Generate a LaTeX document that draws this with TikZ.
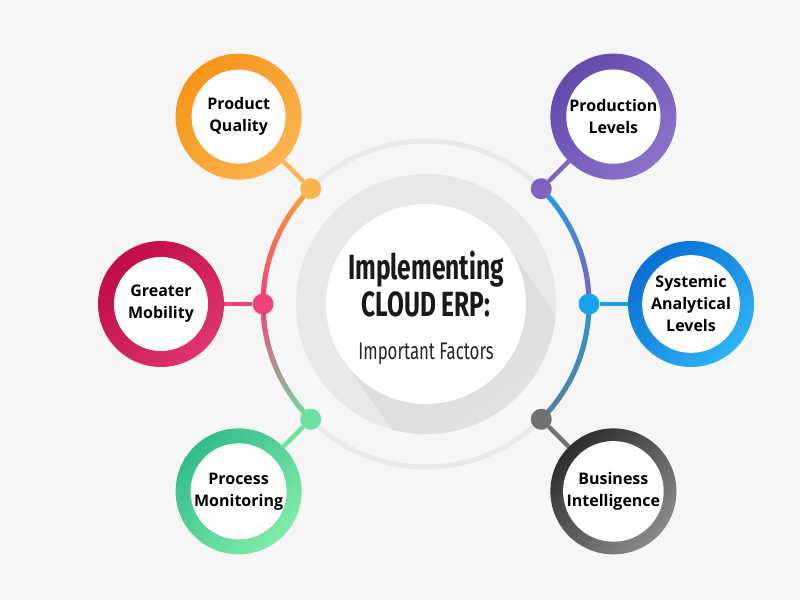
\documentclass[tikz,border=0pt]{standalone}
\usepackage{fontspec}
\newfontfamily\labelfont{Open Sans}
\newfontfamily\titlefont[FakeStretch=0.7]{Fira Sans}

\definecolor{bgcol}{HTML}{F6F6F6}
\definecolor{halo}{HTML}{E8E8E8}
\definecolor{shadowcol}{HTML}{D9D9D9}
\definecolor{paleline}{HTML}{E9E9E9}
\definecolor{orng}{HTML}{F9A633}
\definecolor{orngdark}{HTML}{F79418}
\definecolor{ornglight}{HTML}{FBB550}
\definecolor{pnk}{HTML}{F0417A}
\definecolor{crimdark}{HTML}{C00C4A}
\definecolor{crimlight}{HTML}{DE3470}
\definecolor{grn}{HTML}{6BE2A2}
\definecolor{grndark}{HTML}{34BC8C}
\definecolor{grnlight}{HTML}{80ECA8}
\definecolor{prpl}{HTML}{7F63BC}
\definecolor{prpldark}{HTML}{6249AB}
\definecolor{prpllight}{HTML}{8C73C9}
\definecolor{blu}{HTML}{17A2EE}
\definecolor{bludark}{HTML}{0A6FD2}
\definecolor{blulight}{HTML}{2EB3F5}
\definecolor{gry}{HTML}{717171}
\definecolor{grydark}{HTML}{2E2E2E}
\definecolor{grylight}{HTML}{8A8A8A}
\definecolor{steel}{HTML}{4A86AE}

\tikzset{
  ring/.style 2 args={circle, minimum size=126pt, inner sep=0pt,
    top color=#1, bottom color=#2, shading angle=45},
  factor/.style={circle, fill=white, minimum size=94pt, inner sep=0pt,
    align=center, text=black, font=\labelfont\bfseries\fontsize{16}{22}\selectfont},
  dot/.style={circle, fill=#1, minimum size=21pt, inner sep=0pt},
  link/.style={line width=4.5pt, draw=#1},
}

\begin{document}
\begin{tikzpicture}[x=1pt, y=1pt]
    \useasboundingbox (0,0) rectangle (800,600);
    \fill[bgcol] (0,0) rectangle (800,600);

    \coordinate (C) at (426,296);

    % centre disc with long shadow
    \fill[halo] (C) circle[radius=130];
    \begin{scope}
        \clip (C) circle[radius=130];
        \shade[top color=shadowcol, bottom color=halo, shading angle=35]
            (C) ++(35:100) -- ++(-55:220) -- ++(-145:200) -- ++(125:220) -- cycle;
    \end{scope}
    \node[circle, fill=white, minimum size=200pt, inner sep=0pt] (core) at (C) {};

    \node[anchor=base, text=black!90, font=\titlefont\bfseries\fontsize{35}{40}\selectfont] (t1) at (426,320) {Implementing};
    \node[anchor=base, text=black!90, font=\titlefont\bfseries\fontsize{35}{40}\selectfont] (t2) at (426,283) {CLOUD ERP:};
    \node[anchor=base, text=black!85, font=\titlefont\fontsize{24}{28}\selectfont] (t3) at (426,240) {Important Factors};

    % big ring
    \draw[line width=5pt, paleline] (C) circle[radius=163];
    \foreach \i in {0,...,44} {
        \pgfmathsetmacro\m{100-\i*100/44}
        \draw[line width=5pt, draw=orng!\m!pnk] ([shift={(135+\i:163)}]C) arc[start angle=135+\i, end angle=136.3+\i, radius=163];
        \draw[line width=5pt, draw=pnk!\m!grn] ([shift={(180+\i:163)}]C) arc[start angle=180+\i, end angle=181.3+\i, radius=163];
        \draw[line width=5pt, draw=blu!\m!prpl] ([shift={(45-\i:163)}]C) arc[start angle=45-\i, end angle=43.7-\i, radius=163];
        \draw[line width=5pt, draw=blu!\m!steel!70!gry] ([shift={(-\i:163)}]C) arc[start angle=-\i, end angle=-1.3-\i, radius=163];
    }

    % factors
    \node[ring={orngdark}{ornglight}] (pq) at ([shift={(135:265)}]C) {};
    \node[factor] (pqt) at (pq) {Product\\Quality};
    \node[ring={crimdark}{crimlight}] (gm) at ([shift={(180:265)}]C) {};
    \node[factor] (gmt) at (gm) {Greater\\Mobility};
    \node[ring={grndark}{grnlight}] (pm) at ([shift={(225:265)}]C) {};
    \node[factor] (pmt) at (pm) {Process\\Monitoring};
    \node[ring={prpldark}{prpllight}] (pl) at ([shift={(45:265)}]C) {};
    \node[factor] (plt) at (pl) {Production\\Levels};
    \node[ring={bludark}{blulight}] (sa) at ([shift={(0:265)}]C) {};
    \node[factor] (sat) at (sa) {Systemic\\Analytical\\Levels};
    \node[ring={grydark}{grylight}] (bi) at ([shift={(-45:265)}]C) {};
    \node[factor] (bit) at (bi) {Business\\Intelligence};

    % dots on the ring
    \node[dot=ornglight] (dpq) at ([shift={(135:163)}]C) {};
    \node[dot=pnk] (dgm) at ([shift={(180:163)}]C) {};
    \node[dot=grn] (dpm) at ([shift={(225:163)}]C) {};
    \node[dot=prpl] (dpl) at ([shift={(45:163)}]C) {};
    \node[dot=blu] (dsa) at ([shift={(0:163)}]C) {};
    \node[dot=gry] (dbi) at ([shift={(-45:163)}]C) {};

    \draw[link=ornglight] (dpq) -- (pq);
    \draw[link=pnk] (dgm) -- (gm);
    \draw[link=grn] (dpm) -- (pm);
    \draw[link=prpl] (dpl) -- (pl);
    \draw[link=blu] (dsa) -- (sa);
    \draw[link=gry] (dbi) -- (bi);
\end{tikzpicture}
\end{document}
